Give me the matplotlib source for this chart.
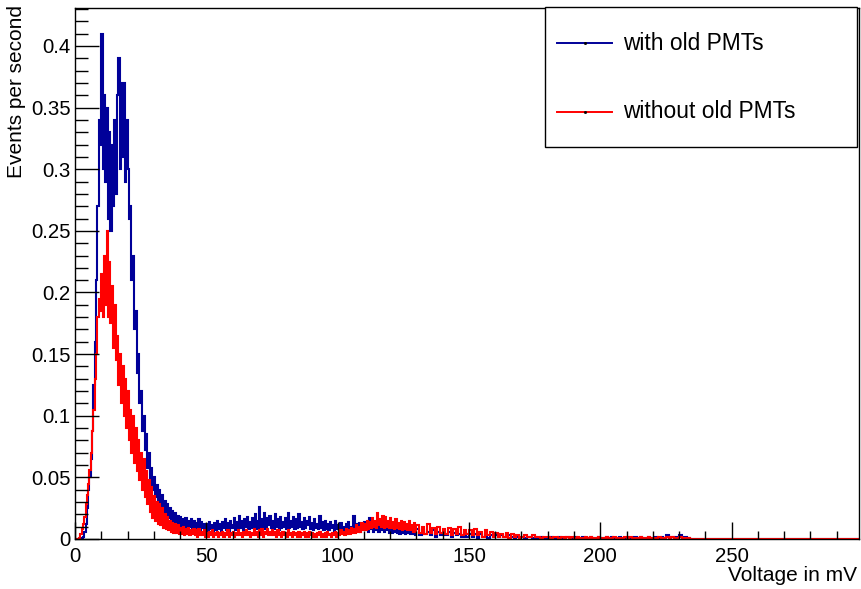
import numpy as np
import matplotlib
matplotlib.use("Agg")
import matplotlib.pyplot as plt
from matplotlib.ticker import MultipleLocator, FuncFormatter
from matplotlib.patches import Rectangle
from matplotlib.lines import Line2D

plt.rcParams['font.family'] = ['Liberation Sans', 'DejaVu Sans']

# ---------------- data ----------------
series_names = ["with old PMTs", "without old PMTs"]
fine_bin_width = 0.5      # mV, 0 - 130 mV
coarse_bin_width = 1.0    # mV, 130 - 235 mV
fine_start, fine_stop, coarse_stop, axis_stop = 0.0, 130.0, 235.0, 300.0

with_old_fine = [
    # 0 - 10 mV
    0, 0, 0, 0, 0, 0.001, 0.002, 0.006, 0.012, 0.025,
    0.04, 0.05, 0.065, 0.088, 0.125, 0.16, 0.21, 0.27, 0.34, 0.32,
    # 10 - 20 mV
    0.41, 0.30, 0.36, 0.29, 0.35, 0.26, 0.33, 0.25, 0.32, 0.27,
    0.34, 0.28, 0.36, 0.39, 0.30, 0.37, 0.31, 0.37, 0.29, 0.34,
    # 20 - 30 mV
    0.30, 0.26, 0.27, 0.21, 0.23, 0.17, 0.185, 0.135, 0.15, 0.11,
    0.12, 0.088, 0.10, 0.072, 0.085, 0.058, 0.07, 0.048, 0.058, 0.04,
    # 30 - 40 mV
    0.05, 0.034, 0.044, 0.029, 0.04, 0.025, 0.036, 0.022, 0.031, 0.019,
    0.028, 0.017, 0.025, 0.015, 0.023, 0.013, 0.021, 0.012, 0.019, 0.011,
    # 40 - 50 mV
    0.018, 0.010, 0.016, 0.009, 0.017, 0.008, 0.015, 0.010, 0.016, 0.007,
    0.015, 0.009, 0.013, 0.008, 0.016, 0.007, 0.014, 0.009, 0.012, 0.008,
    # 50 - 60 mV
    0.012, 0.006, 0.014, 0.008, 0.011, 0.005, 0.013, 0.007, 0.015, 0.008,
    0.012, 0.006, 0.014, 0.009, 0.016, 0.007, 0.013, 0.006, 0.015, 0.009,
    # 60 - 70 mV
    0.011, 0.017, 0.007, 0.014, 0.008, 0.019, 0.009, 0.015, 0.007, 0.016,
    0.010, 0.018, 0.008, 0.014, 0.009, 0.017, 0.010, 0.020, 0.008, 0.015,
    # 70 - 80 mV
    0.026, 0.009, 0.016, 0.010, 0.021, 0.008, 0.017, 0.011, 0.019, 0.009,
    0.015, 0.008, 0.020, 0.010, 0.016, 0.007, 0.018, 0.009, 0.014, 0.010,
    # 80 - 90 mV
    0.017, 0.008, 0.021, 0.009, 0.015, 0.010, 0.018, 0.008, 0.016, 0.009,
    0.020, 0.010, 0.014, 0.008, 0.017, 0.009, 0.015, 0.011, 0.018, 0.008,
    # 90 - 100 mV
    0.013, 0.007, 0.016, 0.009, 0.012, 0.008, 0.019, 0.009, 0.014, 0.007,
    0.015, 0.008, 0.012, 0.007, 0.014, 0.009, 0.011, 0.006, 0.015, 0.008,
    # 100 - 110 mV
    0.011, 0.006, 0.013, 0.008, 0.010, 0.007, 0.012, 0.006, 0.014, 0.008,
    0.010, 0.006, 0.019, 0.008, 0.012, 0.007, 0.013, 0.006, 0.011, 0.008,
    # 110 - 120 mV
    0.014, 0.007, 0.012, 0.006, 0.017, 0.008, 0.011, 0.006, 0.013, 0.007,
    0.012, 0.006, 0.015, 0.007, 0.010, 0.006, 0.012, 0.007, 0.011, 0.005,
    # 120 - 130 mV
    0.010, 0.005, 0.009, 0.006, 0.011, 0.005, 0.008, 0.004, 0.009, 0.005,
    0.008, 0.004, 0.009, 0.005, 0.007, 0.004, 0.008, 0.004, 0.007, 0.003,
]
with_old_coarse = [
    0.008, 0.003, 0.007, 0.004, 0.006, 0.003, 0.007, 0.002, 0.006, 0.003,
    0.005, 0.003, 0.006, 0.002, 0.005, 0.003, 0.004, 0.002, 0.005, 0.002,
    0.004, 0.002, 0.004, 0.001, 0.004, 0.002, 0.003, 0.001, 0.003, 0.002,
    0.003, 0.002, 0.003, 0.002, 0.002, 0.003, 0.002, 0.001, 0.002, 0.002,
    0.002, 0.001, 0.002, 0.002, 0.001, 0.002, 0.001, 0.002, 0.001, 0.001,
    0.001, 0.002, 0.001, 0.001, 0.002, 0.001, 0.001, 0.002, 0.001, 0.001,
    0.002, 0.001, 0.001, 0.002, 0.001, 0.001, 0.002, 0.001, 0.001, 0.002,
    0.001, 0.001, 0.002, 0.001, 0.002, 0.001, 0.001, 0.002, 0.001, 0.001,
    0.002, 0.001, 0.001, 0.002, 0.001, 0.002, 0.001, 0.001, 0.002, 0.001,
    0.001, 0.002, 0.001, 0.002, 0.001, 0.003, 0.001, 0.002, 0.001, 0.002,
    0.003, 0.001, 0.002, 0.001, 0.0,
]

without_old_fine = [
    # 0 - 10 mV
    0, 0, 0, 0.001, 0.004, 0.008, 0.012, 0.018, 0.028, 0.036,
    0.045, 0.056, 0.07, 0.088, 0.105, 0.13, 0.15, 0.18, 0.195, 0.185,
    # 10 - 20 mV
    0.215, 0.18, 0.23, 0.19, 0.25, 0.18, 0.225, 0.175, 0.205, 0.155,
    0.19, 0.145, 0.165, 0.125, 0.15, 0.11, 0.14, 0.10, 0.13, 0.09,
    # 20 - 30 mV
    0.12, 0.08, 0.105, 0.07, 0.10, 0.062, 0.09, 0.055, 0.08, 0.048,
    0.07, 0.04, 0.065, 0.034, 0.055, 0.028, 0.048, 0.022, 0.042, 0.017,
    # 30 - 40 mV
    0.035, 0.015, 0.03, 0.012, 0.028, 0.011, 0.025, 0.009, 0.02, 0.008,
    0.018, 0.007, 0.015, 0.006, 0.013, 0.005, 0.012, 0.005, 0.011, 0.004,
    # 40 - 50 mV
    0.009, 0.004, 0.010, 0.003, 0.008, 0.004, 0.009, 0.003, 0.007, 0.004,
    0.008, 0.003, 0.007, 0.002, 0.008, 0.003, 0.006, 0.003, 0.007, 0.002,
    # 50 - 60 mV
    0.005, 0.002, 0.006, 0.003, 0.007, 0.002, 0.005, 0.003, 0.006, 0.002,
    0.005, 0.003, 0.006, 0.002, 0.005, 0.003, 0.007, 0.002, 0.005, 0.003,
    # 60 - 70 mV
    0.006, 0.002, 0.005, 0.003, 0.007, 0.003, 0.005, 0.002, 0.006, 0.003,
    0.007, 0.003, 0.006, 0.002, 0.005, 0.003, 0.008, 0.003, 0.006, 0.002,
    # 70 - 80 mV
    0.007, 0.003, 0.008, 0.002, 0.006, 0.004, 0.008, 0.003, 0.006, 0.003,
    0.007, 0.003, 0.006, 0.002, 0.007, 0.003, 0.005, 0.002, 0.006, 0.003,
    # 80 - 90 mV
    0.005, 0.002, 0.007, 0.003, 0.005, 0.002, 0.006, 0.003, 0.005, 0.002,
    0.006, 0.002, 0.005, 0.003, 0.006, 0.002, 0.005, 0.002, 0.006, 0.003,
    # 90 - 100 mV
    0.005, 0.002, 0.004, 0.002, 0.005, 0.003, 0.006, 0.002, 0.004, 0.002,
    0.005, 0.002, 0.006, 0.003, 0.004, 0.002, 0.005, 0.003, 0.006, 0.002,
    # 100 - 110 mV
    0.005, 0.003, 0.007, 0.004, 0.006, 0.003, 0.008, 0.004, 0.007, 0.004,
    0.009, 0.005, 0.008, 0.005, 0.011, 0.006, 0.010, 0.006, 0.013, 0.007,
    # 110 - 120 mV
    0.012, 0.007, 0.015, 0.008, 0.014, 0.009, 0.017, 0.010, 0.015, 0.009,
    0.021, 0.011, 0.016, 0.010, 0.019, 0.009, 0.018, 0.010, 0.015, 0.009,
    # 120 - 130 mV
    0.017, 0.009, 0.014, 0.008, 0.016, 0.009, 0.013, 0.008, 0.015, 0.007,
    0.014, 0.008, 0.012, 0.007, 0.015, 0.007, 0.011, 0.006, 0.013, 0.006,
]
without_old_coarse = [
    0.011, 0.005, 0.010, 0.004, 0.012, 0.005, 0.009, 0.004, 0.010, 0.005,
    0.008, 0.004, 0.009, 0.003, 0.008, 0.004, 0.010, 0.003, 0.007, 0.004,
    0.007, 0.003, 0.008, 0.003, 0.006, 0.002, 0.007, 0.003, 0.006, 0.002,
    0.005, 0.002, 0.004, 0.002, 0.005, 0.001, 0.004, 0.002, 0.003, 0.001,
    0.002, 0.003, 0.002, 0.002, 0.003, 0.002, 0.002, 0.001, 0.002, 0.002,
    0.002, 0.001, 0.002, 0.002, 0.001, 0.002, 0.001, 0.002, 0.001, 0.002,
    0.001, 0.002, 0.001, 0.001, 0.002, 0.001, 0.002, 0.001, 0.001, 0.002,
    0.001, 0.001, 0.002, 0.001, 0.001, 0.002, 0.001, 0.001, 0.001, 0.002,
    0.001, 0.002, 0.001, 0.001, 0.001, 0.002, 0.001, 0.001, 0.002, 0.001,
    0.001, 0.001, 0.002, 0.001, 0.001, 0.002, 0.001, 0.002, 0.001, 0.001,
    0.002, 0.001, 0.001, 0.001, 0.0,
]

x_label = "Voltage in mV"
y_label = "Events per second"

# ---------------- bins ----------------
edges = np.concatenate([
    np.arange(fine_start, fine_stop + 1e-9, fine_bin_width),
    np.arange(fine_stop + coarse_bin_width, coarse_stop + 1e-9, coarse_bin_width),
    [axis_stop],
])
with_old = np.array(with_old_fine + with_old_coarse + [0.0])
without_old = np.array(without_old_fine + without_old_coarse + [0.0])

# ---------------- figure ----------------
W, H = 861, 589
fig = plt.figure(figsize=(W / 100, H / 100), dpi=100)
L, R, T, B = 75, 859, 8, 539
ax = fig.add_axes([L / W, 1 - B / H, (R - L) / W, (B - T) / H])

blue = '#000099'
red = '#ff0000'
ax.stairs(with_old, edges, color=blue, lw=1.5, baseline=0)
ax.stairs(without_old, edges, color=red, lw=1.5, baseline=0)

ax.set_xlim(0, 298.5)
ax.set_ylim(0, 0.4308)

for s in ax.spines.values():
    s.set_linewidth(1.0)
    s.set_color('black')

ax.xaxis.set_major_locator(MultipleLocator(50))
ax.xaxis.set_minor_locator(MultipleLocator(10))
ax.yaxis.set_major_locator(MultipleLocator(0.05))
ax.yaxis.set_minor_locator(MultipleLocator(0.01))
ax.yaxis.set_major_formatter(FuncFormatter(lambda v, p: '%g' % round(v, 3)))
ax.xaxis.set_major_formatter(FuncFormatter(lambda v, p: '%g' % v))

ax.tick_params(axis='both', which='both', direction='in', top=False, right=False,
               labelsize=14.7, colors='black', width=1.0)
ax.tick_params(axis='y', which='major', length=17, pad=3)
ax.tick_params(axis='y', which='minor', length=9)
ax.tick_params(axis='x', which='major', length=12, pad=6)
ax.tick_params(axis='x', which='minor', length=6)

fig.text(857 / W, 1 - 581 / H, x_label, ha='right', va='baseline', fontsize=15)
fig.text(17 / W, 1 - 5 / H, y_label, ha='center', va='top', rotation=90, fontsize=15)

# ---------------- legend ----------------
lx0, lx1, ly0, ly1 = 545, 857, 7, 147
fig.patches.append(Rectangle((lx0 / W, 1 - ly1 / H), (lx1 - lx0) / W, (ly1 - ly0) / H,
                             transform=fig.transFigure, facecolor='white',
                             edgecolor='black', lw=1.0, zorder=5))
for name, col, yy in [(series_names[0], blue, 43), (series_names[1], red, 112)]:
    fig.lines.append(Line2D([557 / W, 612 / W], [1 - yy / H, 1 - yy / H],
                            transform=fig.transFigure, color=col, lw=1.4, zorder=6))
    fig.lines.append(Line2D([584.5 / W], [1 - yy / H], transform=fig.transFigure,
                            marker='s', markersize=1.0, color='black', lw=0, zorder=7))
    fig.text(623 / W, 1 - yy / H, name, ha='left', va='center', fontsize=16.4, zorder=7)

fig.savefig('out.png', dpi=100)
